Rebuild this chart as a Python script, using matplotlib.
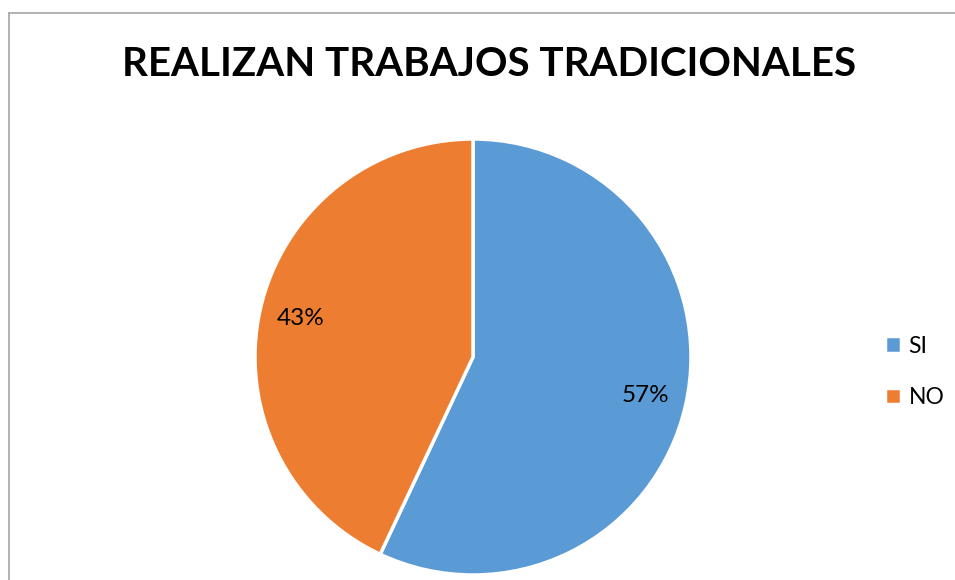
import matplotlib
matplotlib.use("Agg")
import matplotlib.pyplot as plt
from matplotlib.lines import Line2D

# datos del grafico
categorias = ["SI", "NO"]
valores = [57, 43]
colores = ["#5B9BD5", "#ED7D31"]
titulo = "REALIZAN TRABAJOS TRADICIONALES"

W, H = 955, 580
fig = plt.figure(figsize=(W / 100, H / 100), dpi=100)

# marco gris del grafico (recortado a la derecha y abajo)
fig.add_artist(Line2D([9 / W, 1.0], [1 - 13 / H, 1 - 13 / H], color="#A6A6A6", lw=1.2))
fig.add_artist(Line2D([9 / W, 9 / W], [0.0, 1 - 13 / H], color="#A6A6A6", lw=1.2))

# ejes para la torta: centro (473, 357) px, radio 218 px
cx, cy, r = 473, 357, 218
ax = fig.add_axes([(cx - r) / W, (H - cy - r) / H, 2 * r / W, 2 * r / H])
wedges, texts, autotexts = ax.pie(
    valores, colors=colores, startangle=90, counterclock=False,
    autopct="%1.0f%%", pctdistance=0.81,
    wedgeprops=dict(edgecolor="white", linewidth=2.5),
    textprops=dict(fontsize=17.5, color="black", family="Lato"),
)
ax.set_xlim(-1, 1)
ax.set_ylim(-1, 1)
ax.axis("off")

fig.text(489 / W, 1 - 64 / H, titulo, ha="center", va="center",
         fontsize=29, fontweight="bold", family="Lato")

leg = fig.legend(wedges, categorias, loc="center left",
                 bbox_to_anchor=(864 / W, 1 - 372 / H), frameon=False,
                 prop=dict(family="Lato", size=16.5),
                 handlelength=0.7, handleheight=0.7, handletextpad=0.35,
                 labelspacing=1.35)

fig.savefig("out.png", dpi=100)
